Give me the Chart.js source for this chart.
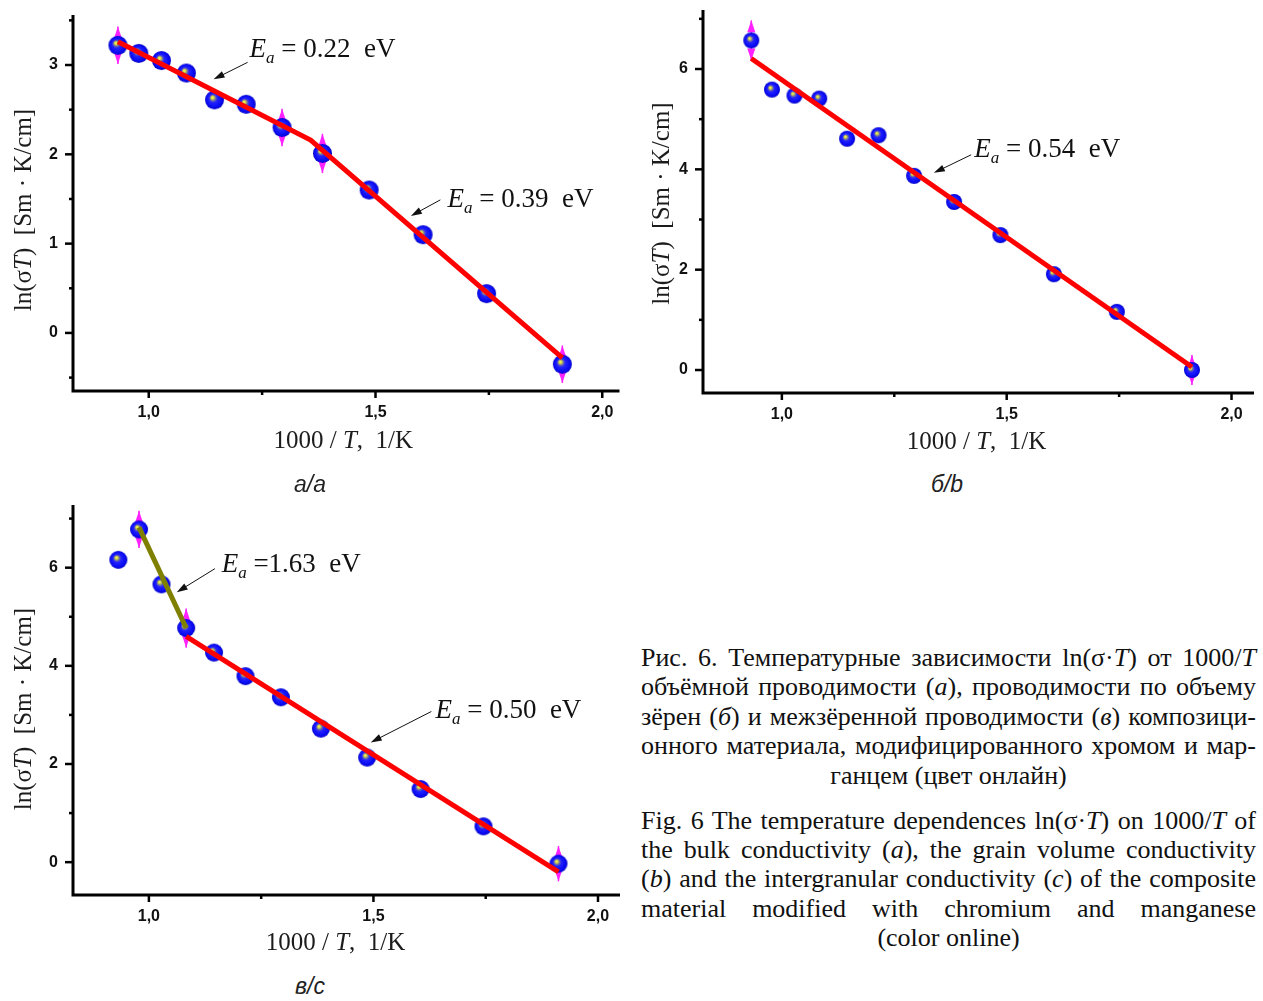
<!DOCTYPE html>
<html>
<head>
<meta charset="utf-8">
<script src="https://cdn.jsdelivr.net/npm/chart.js@4.4.0/dist/chart.umd.min.js"></script>
<style>
  body { margin: 0; background: #fff; width: 1263px; height: 1001px; position: relative; overflow: hidden; }
  canvas { position: absolute; }
  .sub { position: absolute; width: 120px; text-align: center; font: italic 23px "Liberation Sans"; color: #222; }
  #caption { position: absolute; left: 641px; top: 643px; width: 615px; font-family: "Liberation Serif"; font-size: 26px; line-height: 29.4px; color: #111; }
  #caption div { white-space: nowrap; }
  #caption div.j { transform-origin: 0 0; }
  #caption div.c { text-align: center; }
  #caption .gap { height: 15.5px; }
</style>
</head>
<body>
<canvas id="chartA" width="630" height="470" style="left:0;top:0"></canvas>
<canvas id="chartB" width="633" height="470" style="left:630px;top:0"></canvas>
<canvas id="chartC" width="630" height="470" style="left:0;top:495px"></canvas>

<div class="sub" style="left:250px;top:471px">а/a</div>
<div class="sub" style="left:887px;top:471px">б/b</div>
<div class="sub" style="left:250px;top:973px">в/c</div>

<div id="caption">
  <div class="j"><span>Рис. 6. Температурные зависимости ln(σ·<i>T</i>) от 1000/<i>T</i></span></div>
  <div class="j"><span>объёмной проводимости (<i>а</i>), проводимости по объему</span></div>
  <div class="j"><span>зёрен (<i>б</i>) и межзёренной проводимости (<i>в</i>) композици-</span></div>
  <div class="j"><span>онного материала, модифицированного хромом и мар-</span></div>
  <div class="c">ганцем (цвет онлайн)</div>
  <div class="gap"></div>
  <div class="j"><span>Fig. 6 The temperature dependences ln(σ·<i>T</i>) on 1000/<i>T</i> of</span></div>
  <div class="j"><span>the bulk conductivity (<i>a</i>), the grain volume conductivity</span></div>
  <div class="j"><span>(<i>b</i>) and the intergranular conductivity (<i>c</i>) of the composite</span></div>
  <div class="j"><span>material modified with chromium and manganese</span></div>
  <div class="c">(color online)</div>
</div>

<script>
// 1000/T for the twelve measuring temperatures, 1/K
const invT = [0.932, 0.978, 1.028, 1.083, 1.145, 1.215, 1.294, 1.383, 1.486, 1.605, 1.745, 1.912];

// ln(sigma*T): bulk (a), grain volume (b), intergranular (c)
const lnA = [3.22, 3.13, 3.05, 2.91, 2.61, 2.56, 2.30, 2.01, 1.60, 1.10, 0.44, -0.35];
const lnB = [6.57, 5.59, 5.47, 5.41, 4.61, 4.68, 3.87, 3.35, 2.69, 1.91, 1.16, 0.00];
const lnC = [6.16, 6.78, 5.66, 4.77, 4.27, 3.79, 3.36, 2.72, 2.13, 1.49, 0.73, -0.03];

// error bar half-heights (0 = none)
const errA = [0.21, 0, 0, 0, 0, 0, 0.21, 0.22, 0, 0, 0, 0.21];
const errB = [0.40, 0, 0, 0, 0, 0, 0, 0, 0, 0, 0, 0.30];
const errC = [0, 0.38, 0, 0.40, 0, 0, 0, 0, 0, 0, 0, 0.36];

// Arrhenius fit segments
const fitA = [[0.932, 3.26], [1.357, 2.16], [1.912, -0.28]];
const fitB = [[0.932, 6.21], [1.912, 0.06]];
const fitC1 = [[0.978, 6.82], [1.083, 4.77]];
const fitC2 = [[1.083, 4.60], [1.912, -0.20]];

// activation energies, eV
const eaA = ['0.22', '0.39'];
const eaB = ['0.54'];
const eaC = ['1.63', '0.50'];

// ticks
const xTicks = [1.0, 1.5, 2.0];
const xTickLabels = ['1,0', '1,5', '2,0'];
const xMinor = [1.25, 1.75];
const yTicksA = [0, 1, 2, 3];
const yMinorA = [-0.5, 0.5, 1.5, 2.5, 3.5];
const yTicksBC = [0, 2, 4, 6];
const yMinorBC = [1, 3, 5, 7];

const SERIF = '"Liberation Serif", "Times New Roman", serif';

// caption: stretch short lines with word spacing, squeeze long ones
const CAP_W = 615;
document.querySelectorAll('#caption div.j').forEach(el => {
  const span = el.firstElementChild;
  const w = span.getBoundingClientRect().width;
  if (w > CAP_W) {
    el.style.transform = 'scaleX(' + (CAP_W / w) + ')';
  } else {
    const gaps = (span.textContent.match(/ /g) || []).length;
    el.style.wordSpacing = ((CAP_W - w) / gaps) + 'px';
  }
});

function sphere(r) {
  const c = document.createElement('canvas');
  const s = Math.ceil(r * 2 + 2);
  c.width = c.height = s;
  const g = c.getContext('2d');
  const m = s / 2;
  const grad = g.createRadialGradient(m - r * 0.25, m - r * 0.28, 0, m, m, r);
  grad.addColorStop(0, '#ffff60');
  grad.addColorStop(0.14, '#e0e040');
  grad.addColorStop(0.3, '#6a6aa8');
  grad.addColorStop(0.45, '#2222ff');
  grad.addColorStop(0.85, '#0808f0');
  grad.addColorStop(1, '#0000c0');
  g.fillStyle = grad;
  g.beginPath();
  g.arc(m, m, r, 0, Math.PI * 2);
  g.fill();
  return c;
}

const pts = (ys) => invT.map((x, i) => ({ x, y: ys[i] }));
const seg = (arr) => arr.map(([x, y]) => ({ x, y }));

// draws rich text made of [string, italic] parts
function richText(ctx, parts, x, y, size, align) {
  let w = 0;
  parts.forEach(([s, it]) => {
    ctx.font = (it ? 'italic ' : '') + size + 'px ' + SERIF;
    w += ctx.measureText(s).width;
  });
  let px = align === 'center' ? x - w / 2 : x;
  parts.forEach(([s, it]) => {
    ctx.font = (it ? 'italic ' : '') + size + 'px ' + SERIF;
    ctx.fillText(s, px, y);
    px += ctx.measureText(s).width;
  });
}

const axesPlugin = {
  id: 'axes',
  afterDraw(chart, args, o) {
    const { ctx, chartArea: a, scales: { x, y } } = chart;
    ctx.save();
    ctx.strokeStyle = '#000';
    ctx.lineWidth = 3;
    ctx.beginPath();
    ctx.moveTo(a.left, a.top);
    ctx.lineTo(a.left, a.bottom);
    ctx.lineTo(a.right, a.bottom);
    ctx.stroke();

    ctx.lineWidth = 2.5;
    const yt = (vals, len) => vals.forEach(v => {
      const py = y.getPixelForValue(v);
      ctx.beginPath(); ctx.moveTo(a.left, py); ctx.lineTo(a.left - len, py); ctx.stroke();
    });
    const xt = (vals, len) => vals.forEach(v => {
      const px = x.getPixelForValue(v);
      ctx.beginPath(); ctx.moveTo(px, a.bottom); ctx.lineTo(px, a.bottom + len); ctx.stroke();
    });
    yt(o.yMajor, 8); yt(o.yMinor, 4);
    xt(xTicks, 7); xt(xMinor, 4);

    // axis titles
    ctx.fillStyle = '#1c1c1c';
    ctx.textBaseline = 'alphabetic';
    richText(ctx, [['1000 / ', false], ['T', true], [',  1/K', false]],
      (a.left + a.right) / 2 + o.xTitleShift, a.bottom + o.xTitleDrop, 25, 'center');
    ctx.translate(o.yTitleX, (a.top + a.bottom) / 2 + o.yTitleShift);
    ctx.rotate(-Math.PI / 2);
    richText(ctx, [['ln(σ', false], ['T', true], [')  [Sm · K/cm]', false]], 0, 9, 25, 'center');
    ctx.restore();
  }
};

const errPlugin = {
  id: 'errbars',
  beforeDatasetsDraw(chart, args, o) {
    const { ctx, scales: { x, y } } = chart;
    const data = chart.data.datasets[1].data;
    ctx.save();
    ctx.fillStyle = '#ff22ff';
    ctx.strokeStyle = '#ff22ff';
    ctx.lineWidth = 1.5;
    o.values.forEach((e, i) => {
      if (!e) return;
      const px = x.getPixelForValue(data[i].x);
      const top = y.getPixelForValue(data[i].y + e);
      const bot = y.getPixelForValue(data[i].y - e);
      ctx.beginPath(); ctx.moveTo(px, top); ctx.lineTo(px, bot); ctx.stroke();
      [[top, 1], [bot, -1]].forEach(([tip, d]) => {
        ctx.beginPath();
        ctx.moveTo(px, tip);
        ctx.lineTo(px - o.head, tip + d * o.headLen);
        ctx.lineTo(px + o.head, tip + d * o.headLen);
        ctx.closePath();
        ctx.fill();
      });
    });
    ctx.restore();
  }
};

const notesPlugin = {
  id: 'notes',
  afterDatasetsDraw(chart, args, o) {
    const { ctx, scales: { x, y } } = chart;
    ctx.save();
    ctx.fillStyle = '#111';
    ctx.strokeStyle = '#111';
    ctx.lineWidth = 1;
    o.items.forEach(n => {
      const tx = x.getPixelForValue(n.tail[0]), ty = y.getPixelForValue(n.tail[1]);
      const hx = x.getPixelForValue(n.head[0]), hy = y.getPixelForValue(n.head[1]);
      const ang = Math.atan2(hy - ty, hx - tx);
      const c = Math.cos(ang), s = Math.sin(ang);
      ctx.beginPath(); ctx.moveTo(tx, ty); ctx.lineTo(hx - 6 * c, hy - 6 * s); ctx.stroke();
      ctx.beginPath();
      ctx.moveTo(hx, hy);
      ctx.lineTo(hx - 11 * c + 3.5 * s, hy - 11 * s - 3.5 * c);
      ctx.lineTo(hx - 11 * c - 3.5 * s, hy - 11 * s + 3.5 * c);
      ctx.closePath();
      ctx.fill();

      let px = x.getPixelForValue(n.at[0]);
      const py = y.getPixelForValue(n.at[1]);
      ctx.textBaseline = 'alphabetic';
      ctx.font = 'italic 27px ' + SERIF;
      ctx.fillText('E', px, py);
      px += ctx.measureText('E').width;
      ctx.font = 'italic 17px ' + SERIF;
      ctx.fillText('a', px, py + 6);
      px += ctx.measureText('a').width;
      ctx.font = '27px ' + SERIF;
      ctx.fillText(n.tight ? ' =' + n.ea + '  eV' : ' = ' + n.ea + '  eV', px, py);
    });
    ctx.restore();
  }
};

Chart.defaults.color = '#111';
Chart.defaults.font.family = '"Liberation Sans", Arial, sans-serif';

function makeChart(id, cfg) {
  const fitSets = cfg.fits.map(f => ({
    data: seg(f.pts),
    showLine: true,
    borderColor: f.color,
    borderWidth: 5,
    pointRadius: 0,
    order: 0
  }));
  return new Chart(document.getElementById(id), {
    type: 'scatter',
    data: {
      datasets: [
        fitSets[0],
        { data: pts(cfg.ln), pointStyle: sphere(cfg.r), pointRadius: cfg.r, order: 2 },
        ...fitSets.slice(1)
      ]
    },
    options: {
      responsive: false,
      animation: false,
      events: [],
      layout: { padding: cfg.pad },
      scales: {
        x: {
          type: 'linear', min: cfg.x[0], max: cfg.x[1],
          grid: { display: false, drawTicks: false },
          border: { display: false },
          afterBuildTicks: s => { s.ticks = xTicks.map(v => ({ value: v })); },
          afterFit: s => { s.height = cfg.xh; s.paddingLeft = 0; s.paddingRight = 0; },
          ticks: {
            padding: 12,
            maxRotation: 0,
            font: { size: 16, weight: 'bold' },
            callback: v => xTickLabels[xTicks.indexOf(v)]
          }
        },
        y: {
          type: 'linear', min: cfg.y[0], max: cfg.y[1],
          grid: { display: false, drawTicks: false },
          border: { display: false },
          afterBuildTicks: s => { s.ticks = cfg.yMajor.map(v => ({ value: v })); },
          afterFit: s => { s.width = 73; s.paddingTop = 0; s.paddingBottom = 0; },
          ticks: { padding: 15, font: { size: 16, weight: 'bold' }, callback: v => String(v) }
        }
      },
      plugins: {
        legend: { display: false },
        tooltip: { enabled: false },
        axes: { yMajor: cfg.yMajor, yMinor: cfg.yMinor, ...cfg.titles },
        errbars: { values: cfg.err, head: 4, headLen: 12 },
        notes: { items: cfg.notes }
      }
    },
    plugins: [axesPlugin, errPlugin, notesPlugin]
  });
}

makeChart('chartA', {
  ln: lnA, err: errA, r: 9.5,
  x: [0.833, 2.038], y: [-0.65, 3.56],
  pad: { left: 0, top: 15, right: 10, bottom: 0 }, xh: 79,
  yMajor: yTicksA, yMinor: yMinorA,
  titles: { xTitleShift: -3, xTitleDrop: 57, yTitleX: 22, yTitleShift: 7 },
  fits: [{ pts: fitA, color: '#ff0000' }],
  notes: [
    { ea: eaA[0], at: [1.222, 3.09], tail: [1.218, 3.03], head: [1.143, 2.84] },
    { ea: eaA[1], at: [1.659, 1.41], tail: [1.643, 1.49], head: [1.578, 1.31] }
  ]
});

makeChart('chartB', {
  ln: lnB, err: errB, r: 8,
  x: [0.8246, 2.050], y: [-0.458, 7.176],
  pad: { left: 0, top: 10, right: 1, bottom: 0 }, xh: 77,
  yMajor: yTicksBC, yMinor: yMinorBC,
  titles: { xTitleShift: -2, xTitleDrop: 56, yTitleX: 30, yTitleShift: 2 },
  fits: [{ pts: fitB, color: '#ff0000' }],
  notes: [
    { ea: eaB[0], at: [1.428, 4.24], tail: [1.421, 4.29], head: [1.338, 3.93] }
  ]
});

makeChart('chartC', {
  ln: lnC, err: errC, r: 9,
  x: [0.831, 2.049], y: [-0.669, 7.277],
  pad: { left: 0, top: 8, right: 10, bottom: 0 }, xh: 70,
  yMajor: yTicksBC, yMinor: yMinorBC,
  titles: { xTitleShift: -11, xTitleDrop: 55, yTitleX: 22, yTitleShift: 9 },
  fits: [{ pts: fitC2, color: '#ff0000' }, { pts: fitC1, color: '#808000' }],
  notes: [
    { ea: eaC[0], tight: true, at: [1.162, 5.92], tail: [1.147, 5.98], head: [1.062, 5.50] },
    { ea: eaC[1], at: [1.638, 2.94], tail: [1.629, 3.07], head: [1.494, 2.44] }
  ]
});
</script>
</body>
</html>
